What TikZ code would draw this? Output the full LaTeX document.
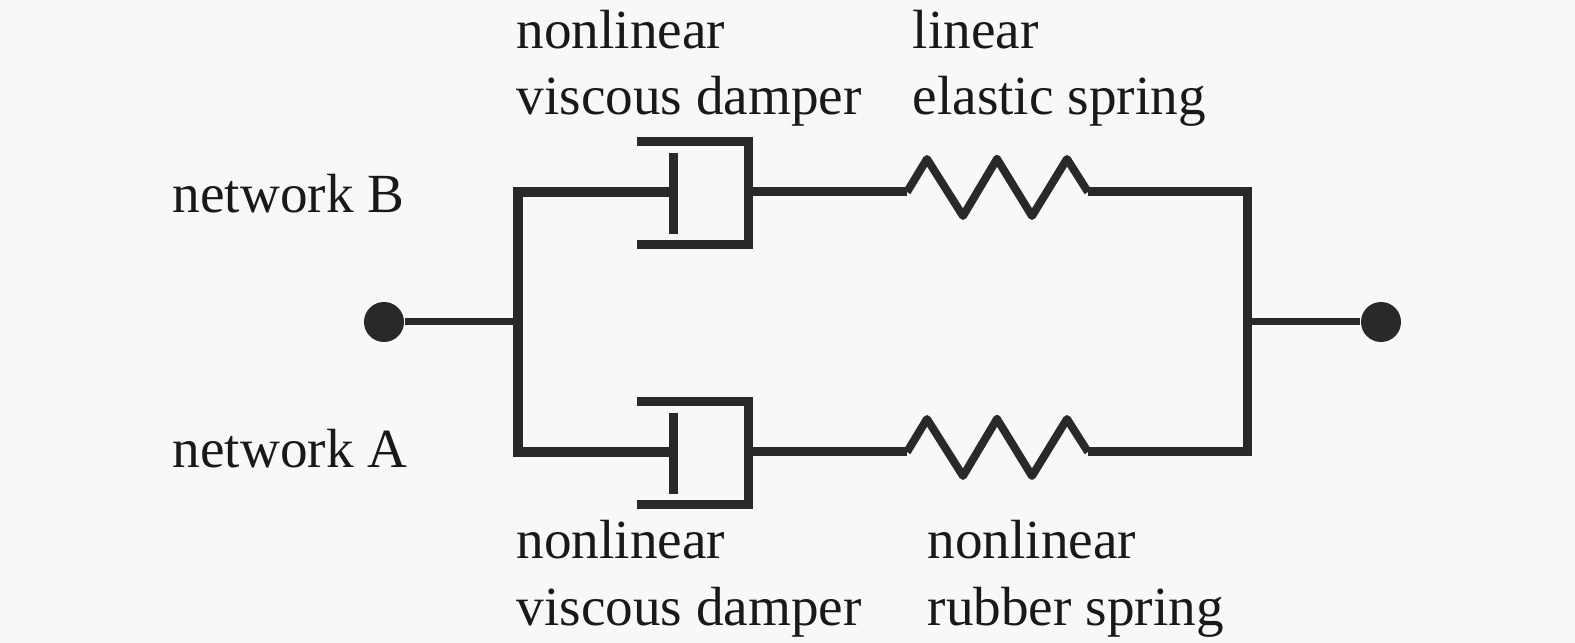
\documentclass[tikz,border=0pt]{standalone}
\usepackage{fontspec}
\setmainfont{Liberation Serif}
\definecolor{ink}{gray}{0.16}
\definecolor{textink}{gray}{0.1}
\definecolor{paper}{gray}{0.973}
\tikzset{
 wire/.style={draw=ink,line width=0.09cm,line cap=butt,line join=miter},
 wallL/.style={draw=ink,line width=0.1cm,line cap=butt,line join=miter},
 spring/.style={draw=ink,line width=0.08cm,line cap=butt,line join=round},
 wirethin/.style={draw=ink,line width=0.07cm},
 lab/.style={font=\fontsize{15.7pt}{15.7pt}\selectfont,text=textink,anchor=base west,inner sep=0pt},
 term/.style={circle,fill=ink,minimum size=0.4cm,inner sep=0pt}
}
\begin{document}
\begin{tikzpicture}[x=0.01cm,y=-0.01cm]
\fill[paper] (0,0) rectangle (1575,643);
\useasboundingbox (0,0) rectangle (1575,643);
\node[term] (L) at (384,322) {};
\node[term] (R) at (1381,322) {};
\coordinate (LJ) at (518,322);
\coordinate (RJ) at (1248,322);
\coordinate (TL) at (518,192);
\coordinate (BL) at (518,452);
\coordinate (TR) at (1247,192);
\coordinate (BR) at (1247,452);
\coordinate (TP) at (673,192);
\coordinate (BP) at (673,452);
\coordinate (TC) at (751,192);
\coordinate (BC) at (751,452);
\coordinate (TS) at (907,192);
\coordinate (BS) at (907,452);
\coordinate (TE) at (1088,192);
\coordinate (BE) at (1088,452);
\draw[wirethin] (L) -- (LJ);
\draw[wirethin] (RJ) -- (R);
\draw[wallL] (TP) -- (TL) -- (BL) -- (BP);
\draw[wire] (TE) -- (TR) -- (BR) -- (BE);
\draw[wire] (TC) -- (TS);
\draw[wire] (BC) -- (BS);
\foreach \y in {192,452}{
 \draw[wire] (637,\y-50) -- (748,\y-50) -- (748,\y+53) -- (637,\y+53);
 \draw[wire] (673,\y-39) -- (673,\y+42);
 \draw[spring] (907,\y) -- (927,\y-33) -- (963,\y+24) -- (997,\y-33) -- (1032,\y+24) -- (1067,\y-33) -- (1088,\y);
}
\node[lab] (t1) at (516,49) {nonlinear};
\node[lab] (t2) at (516,115) {viscous damper};
\node[lab] (t3) at (912,49) {linear};
\node[lab] (t4) at (912,115) {elastic spring};
\node[lab] (t5) at (172,213) {network B};
\node[lab] (t6) at (172,468) {network A};
\node[lab] (t7) at (516,559) {nonlinear};
\node[lab] (t8) at (516,626) {viscous damper};
\node[lab] (t9) at (927,559) {nonlinear};
\node[lab] (t10) at (927,626) {rubber spring};
\end{tikzpicture}
\end{document}
